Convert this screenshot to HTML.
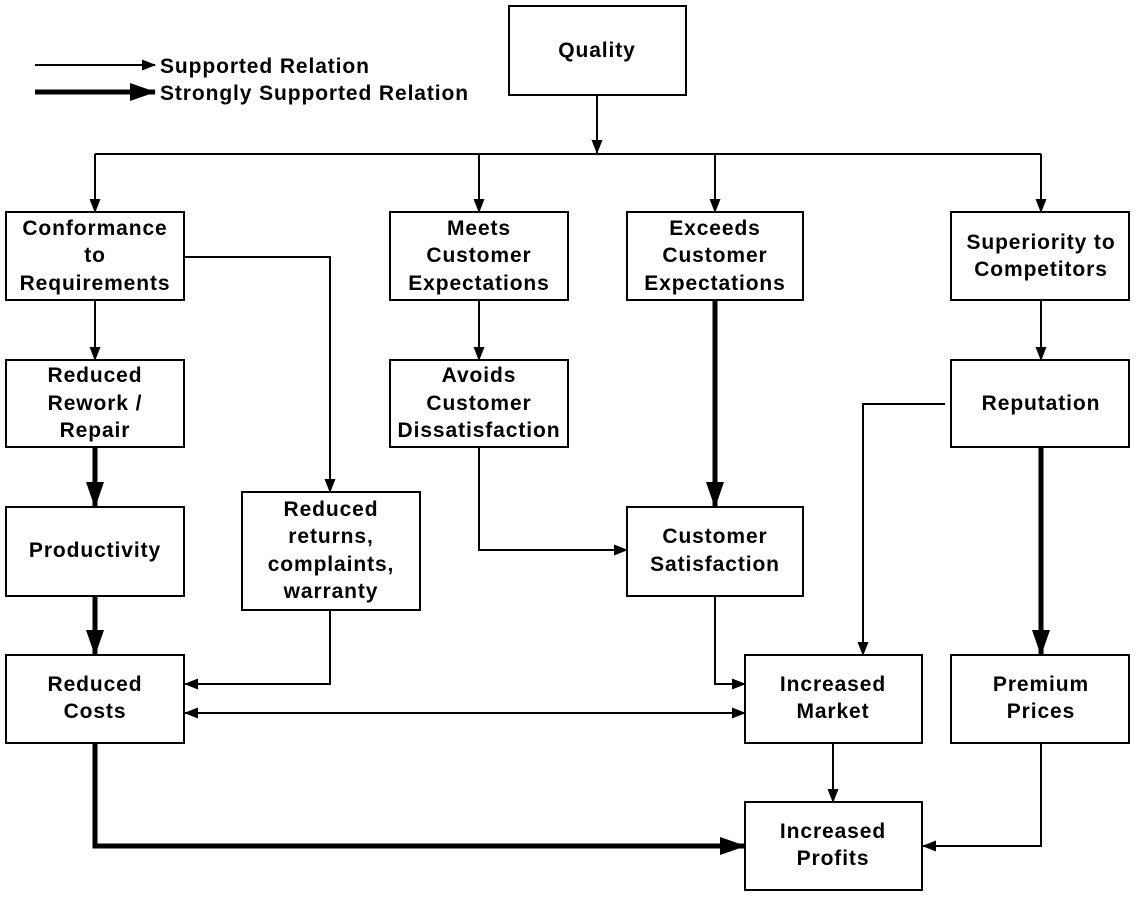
<!DOCTYPE html>
<html><head><meta charset="utf-8"><style>
body{margin:0;background:#fff}
svg text{font-family:"Liberation Sans",Arial,sans-serif;font-weight:bold;font-size:21px;letter-spacing:0.9px;fill:#000;text-anchor:middle}
</style></head><body>
<svg width="1137" height="900" viewBox="0 0 1137 900" xmlns="http://www.w3.org/2000/svg">
<defs>
<marker id="a" markerWidth="14" markerHeight="12" refX="13" refY="5.5" orient="auto" markerUnits="userSpaceOnUse"><path d="M0,0 L14,5.5 L0,11 z" fill="#000"/></marker>
<marker id="as" markerWidth="14" markerHeight="12" refX="1" refY="5.5" orient="auto" markerUnits="userSpaceOnUse"><path d="M14,0 L0,5.5 L14,11 z" fill="#000"/></marker>
<marker id="b" markerWidth="26" markerHeight="20" refX="25" refY="9" orient="auto" markerUnits="userSpaceOnUse"><path d="M0,0 L26,9 L0,18 z" fill="#000"/></marker>
</defs>
<g fill="#fff" stroke="#000" stroke-width="2">
<rect x="509" y="6" width="177" height="89"/>
<rect x="6" y="212" width="178" height="88"/>
<rect x="390" y="212" width="178" height="88"/>
<rect x="627" y="212" width="176" height="88"/>
<rect x="951" y="212" width="178" height="88"/>
<rect x="6" y="360" width="178" height="87"/>
<rect x="390" y="360" width="178" height="87"/>
<rect x="951" y="360" width="178" height="87"/>
<rect x="6" y="507" width="178" height="89"/>
<rect x="242" y="492" width="178" height="118"/>
<rect x="627" y="507" width="176" height="89"/>
<rect x="6" y="655" width="178" height="88"/>
<rect x="745" y="655" width="177" height="88"/>
<rect x="951" y="655" width="178" height="88"/>
<rect x="745" y="802" width="177" height="88"/>
</g>
<g fill="none" stroke="#000" stroke-width="2">
<line x1="35" y1="65" x2="155" y2="65" marker-end="url(#a)"/>
<line x1="597" y1="95" x2="597" y2="153" marker-end="url(#a)"/>
<line x1="95" y1="154" x2="1041" y2="154"/>
<line x1="95" y1="154" x2="95" y2="212" marker-end="url(#a)"/>
<line x1="479" y1="154" x2="479" y2="212" marker-end="url(#a)"/>
<line x1="715" y1="154" x2="715" y2="212" marker-end="url(#a)"/>
<line x1="1041" y1="154" x2="1041" y2="212" marker-end="url(#a)"/>
<line x1="95" y1="300" x2="95" y2="360" marker-end="url(#a)"/>
<polyline points="184,257 330,257 330,492" marker-end="url(#a)"/>
<polyline points="330,610 330,684 185,684" marker-end="url(#a)"/>
<line x1="185" y1="713" x2="745" y2="713" marker-start="url(#as)" marker-end="url(#a)"/>
<line x1="479" y1="300" x2="479" y2="360" marker-end="url(#a)"/>
<polyline points="479,447 479,550 627,550" marker-end="url(#a)"/>
<polyline points="715,596 715,684 745,684" marker-end="url(#a)"/>
<line x1="1041" y1="300" x2="1041" y2="360" marker-end="url(#a)"/>
<polyline points="945,404 863,404 863,655" marker-end="url(#a)"/>
<line x1="833" y1="743" x2="833" y2="802" marker-end="url(#a)"/>
<polyline points="1041,743 1041,846 923,846" marker-end="url(#a)"/>
</g>
<g fill="none" stroke="#000" stroke-width="5">
<line x1="35" y1="92" x2="155" y2="92" marker-end="url(#b)"/>
<line x1="95" y1="447" x2="95" y2="507" marker-end="url(#b)"/>
<line x1="95" y1="596" x2="95" y2="655" marker-end="url(#b)"/>
<line x1="715" y1="300" x2="715" y2="507" marker-end="url(#b)"/>
<line x1="1041" y1="447" x2="1041" y2="655" marker-end="url(#b)"/>
<polyline points="95,743 95,846 745,846" marker-end="url(#b)"/>
</g>
<text x="160" y="73" style="text-anchor:start">Supported Relation</text>
<text x="160" y="100" style="text-anchor:start">Strongly Supported Relation</text>
<text x="597" y="57">Quality</text>
<text x="95" y="235">Conformance</text><text x="95" y="262">to</text><text x="95" y="290">Requirements</text>
<text x="479" y="235">Meets</text><text x="479" y="262">Customer</text><text x="479" y="290">Expectations</text>
<text x="715" y="235">Exceeds</text><text x="715" y="262">Customer</text><text x="715" y="290">Expectations</text>
<text x="1041" y="249">Superiority to</text><text x="1041" y="276">Competitors</text>
<text x="95" y="382">Reduced</text><text x="95" y="410">Rework /</text><text x="95" y="437">Repair</text>
<text x="479" y="382">Avoids</text><text x="479" y="410">Customer</text><text x="479" y="437">Dissatisfaction</text>
<text x="1041" y="410">Reputation</text>
<text x="95" y="557">Productivity</text>
<text x="331" y="516">Reduced</text><text x="331" y="543">returns,</text><text x="331" y="571">complaints,</text><text x="331" y="598">warranty</text>
<text x="715" y="543">Customer</text><text x="715" y="571">Satisfaction</text>
<text x="95" y="691">Reduced</text><text x="95" y="718">Costs</text>
<text x="833" y="691">Increased</text><text x="833" y="718">Market</text>
<text x="1041" y="691">Premium</text><text x="1041" y="718">Prices</text>
<text x="833" y="838">Increased</text><text x="833" y="865">Profits</text>
</svg>
</body></html>
